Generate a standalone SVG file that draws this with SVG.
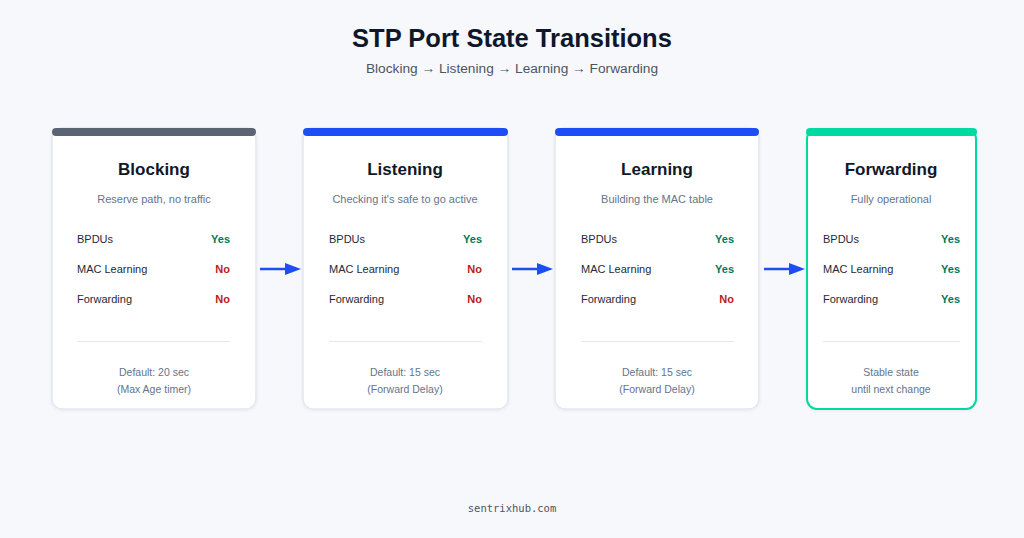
<svg xmlns="http://www.w3.org/2000/svg" width="1024" height="538" viewBox="0 0 1024 538">
<defs>
<style>
.t{font-family:"Liberation Sans",Arial,sans-serif}
.title{font-size:25.5px;font-weight:bold;fill:#0f172a;text-anchor:middle}
.sub{font-size:13.7px;fill:#4b5563;text-anchor:middle}
.card{fill:#ffffff;stroke:#e2e8f0;stroke-width:1.5}
.h{font-size:17px;font-weight:bold;fill:#111827;text-anchor:middle}
.d{font-size:11px;fill:#64748b;text-anchor:middle}
.lab{font-size:11px;fill:#1f2937}
.yes{font-size:11px;font-weight:bold;fill:#047857;text-anchor:end}
.no{font-size:11px;font-weight:bold;fill:#b91c1c;text-anchor:end}
.sep{stroke:#e2e8f0;stroke-width:1}
.f{font-size:10.5px;fill:#64748b;text-anchor:middle}
.conn{stroke:#1d4ef5;stroke-width:2.5;fill:none}
</style>
<filter id="sh" x="-10%" y="-10%" width="120%" height="120%">
<feDropShadow dx="0" dy="1" stdDeviation="1.5" flood-color="#0f172a" flood-opacity="0.06"/>
</filter>
<marker id="ah" markerWidth="16" markerHeight="12" refX="0" refY="6" orient="auto" markerUnits="userSpaceOnUse">
<path d="M0,0 L16,6 L0,12 Z" fill="#1d4ef5"/>
</marker>
</defs>
<rect width="1024" height="538" fill="#f7f8fc"/>
<text class="t title" x="512" y="47">STP Port State Transitions</text>
<text class="t sub" x="512" y="73">Blocking → Listening → Learning → Forwarding</text>

<g id="blocking">
<rect class="card" x="52" y="128" width="204" height="281" rx="10" filter="url(#sh)"/>
<rect x="52" y="128" width="204" height="8" rx="4" fill="#5b6472"/>
<text class="t h" x="154" y="175">Blocking</text>
<text class="t d" x="154" y="203">Reserve path, no traffic</text>
<text class="t lab" x="77" y="243">BPDUs</text><text class="t yes" x="230" y="243">Yes</text>
<text class="t lab" x="77" y="273">MAC Learning</text><text class="t no" x="230" y="273">No</text>
<text class="t lab" x="77" y="303">Forwarding</text><text class="t no" x="230" y="303">No</text>
<line class="sep" x1="77" y1="341.5" x2="230" y2="341.5"/>
<text class="t f" x="154" y="376">Default: 20 sec</text>
<text class="t f" x="154" y="393">(Max Age timer)</text>
</g>

<g id="listening">
<rect class="card" x="303" y="128" width="205" height="281" rx="10" filter="url(#sh)"/>
<rect x="303" y="128" width="205" height="8" rx="4" fill="#1d4ef5"/>
<text class="t h" x="405" y="175">Listening</text>
<text class="t d" x="405" y="203">Checking it's safe to go active</text>
<text class="t lab" x="329" y="243">BPDUs</text><text class="t yes" x="482" y="243">Yes</text>
<text class="t lab" x="329" y="273">MAC Learning</text><text class="t no" x="482" y="273">No</text>
<text class="t lab" x="329" y="303">Forwarding</text><text class="t no" x="482" y="303">No</text>
<line class="sep" x1="329" y1="341.5" x2="482" y2="341.5"/>
<text class="t f" x="405" y="376">Default: 15 sec</text>
<text class="t f" x="405" y="393">(Forward Delay)</text>
</g>

<g id="learning">
<rect class="card" x="555" y="128" width="204" height="281" rx="10" filter="url(#sh)"/>
<rect x="555" y="128" width="204" height="8" rx="4" fill="#1d4ef5"/>
<text class="t h" x="657" y="175">Learning</text>
<text class="t d" x="657" y="203">Building the MAC table</text>
<text class="t lab" x="581" y="243">BPDUs</text><text class="t yes" x="734" y="243">Yes</text>
<text class="t lab" x="581" y="273">MAC Learning</text><text class="t yes" x="734" y="273">Yes</text>
<text class="t lab" x="581" y="303">Forwarding</text><text class="t no" x="734" y="303">No</text>
<line class="sep" x1="581" y1="341.5" x2="734" y2="341.5"/>
<text class="t f" x="657" y="376">Default: 15 sec</text>
<text class="t f" x="657" y="393">(Forward Delay)</text>
</g>

<g id="forwarding">
<rect x="807" y="129" width="169" height="280" rx="10" fill="#ffffff" stroke="#00d99f" stroke-width="2" filter="url(#sh)"/>
<rect x="806" y="128" width="171" height="8" rx="4" fill="#00d99f"/>
<text class="t h" x="891" y="175">Forwarding</text>
<text class="t d" x="891" y="203">Fully operational</text>
<text class="t lab" x="823" y="243">BPDUs</text><text class="t yes" x="960" y="243">Yes</text>
<text class="t lab" x="823" y="273">MAC Learning</text><text class="t yes" x="960" y="273">Yes</text>
<text class="t lab" x="823" y="303">Forwarding</text><text class="t yes" x="960" y="303">Yes</text>
<line class="sep" x1="823" y1="341.5" x2="960" y2="341.5"/>
<text class="t f" x="891" y="376">Stable state</text>
<text class="t f" x="891" y="393">until next change</text>
</g>

<g id="connectors">
<line class="conn" x1="260" y1="269" x2="285" y2="269" marker-end="url(#ah)"/>
<line class="conn" x1="512" y1="269" x2="537" y2="269" marker-end="url(#ah)"/>
<line class="conn" x1="764" y1="269" x2="789" y2="269" marker-end="url(#ah)"/>
</g>

<text x="512" y="512" font-family="'DejaVu Sans Mono','Liberation Mono',monospace" font-size="10.5" fill="#4b5563" text-anchor="middle">sentrixhub.com</text>
</svg>
